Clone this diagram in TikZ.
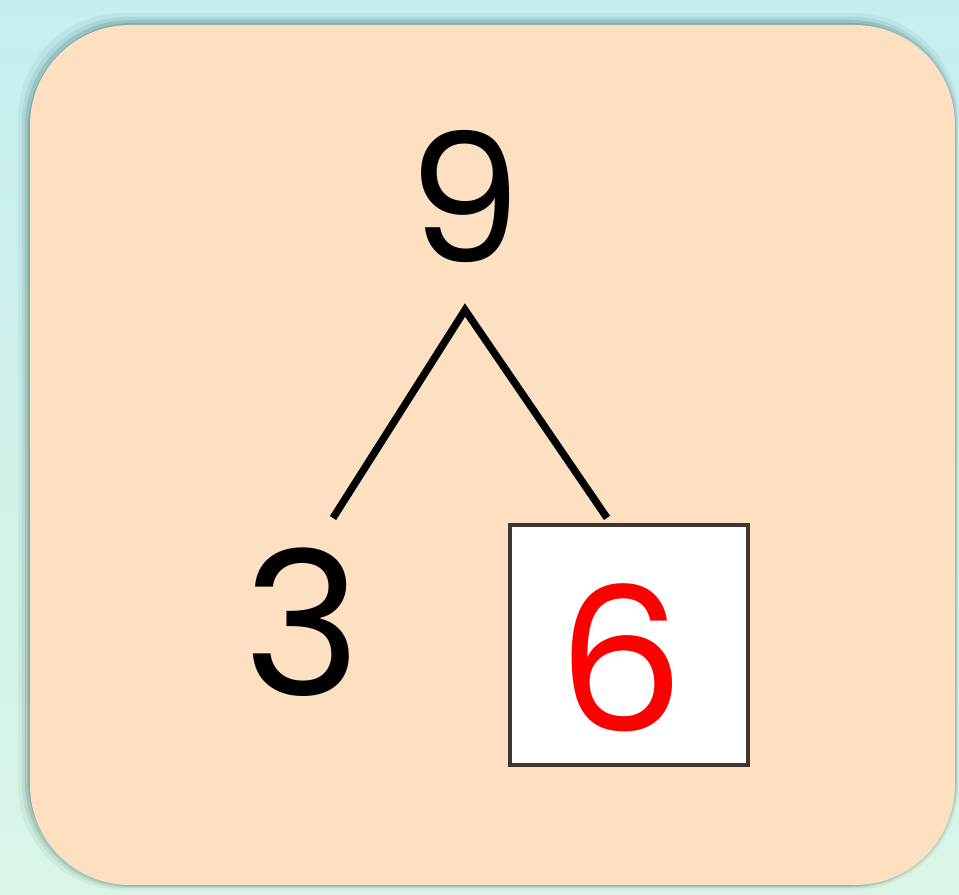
\documentclass[tikz,border=0pt]{standalone}
\usepackage{fontspec}
\newfontfamily\bondfont{Poppins}
\usepackage{tikz}
\usetikzlibrary{positioning,calc}
\definecolor{skyback}{HTML}{C6EEF0}
\definecolor{mintback}{HTML}{DAF5E6}
\definecolor{peach}{HTML}{FDE0C2}
\definecolor{boxedge}{HTML}{3E3632}

\begin{document}
\begin{tikzpicture}[
  digit/.style = {inner sep=0pt, font=\bondfont\fontsize{57}{60}\selectfont},
  answer/.style= {draw=boxedge, line width=1.2pt, fill=white,
                  minimum width=2.38cm, minimum height=2.4cm, inner sep=0pt},
  branch/.style= {line width=2.1pt, black},
]

% ========== Background and card ==========
\shade[top color=skyback, bottom color=mintback] (0,0) rectangle (9.59,8.94);
\useasboundingbox (0,0) rectangle (9.59,8.94);
\foreach \s/\o in {0.12/0.05, 0.08/0.08, 0.05/0.12, 0.02/0.16}
  \fill[black!60!teal, opacity=\o, rounded corners=1.05cm]
    (0.30-\s,0.09-\s*0.4) rectangle (9.55+\s*0.3,8.69+\s);
\fill[peach, rounded corners=1cm] (0.30,0.09) rectangle (9.55,8.69);

% ========== Number bond ==========
\node[digit, font=\bondfont\fontsize{51}{54}\selectfont] (nine) at (4.65,6.97) {9};
\node[digit] (three) at (3.02,2.72) {3};
\node[answer] (six) at (6.29,2.49) {};
\node[digit, text=red] (sixnum) at ($(six.center)+(-0.08,-0.13)$) {6};

\coordinate (apex) at (4.65,5.84);
\coordinate (lend) at (3.33,3.76);
\coordinate (rend) at ($(six.north)+(-0.22,0.05)$);

\draw[branch] (lend) -- (apex) -- (rend);

\end{tikzpicture}
\end{document}
